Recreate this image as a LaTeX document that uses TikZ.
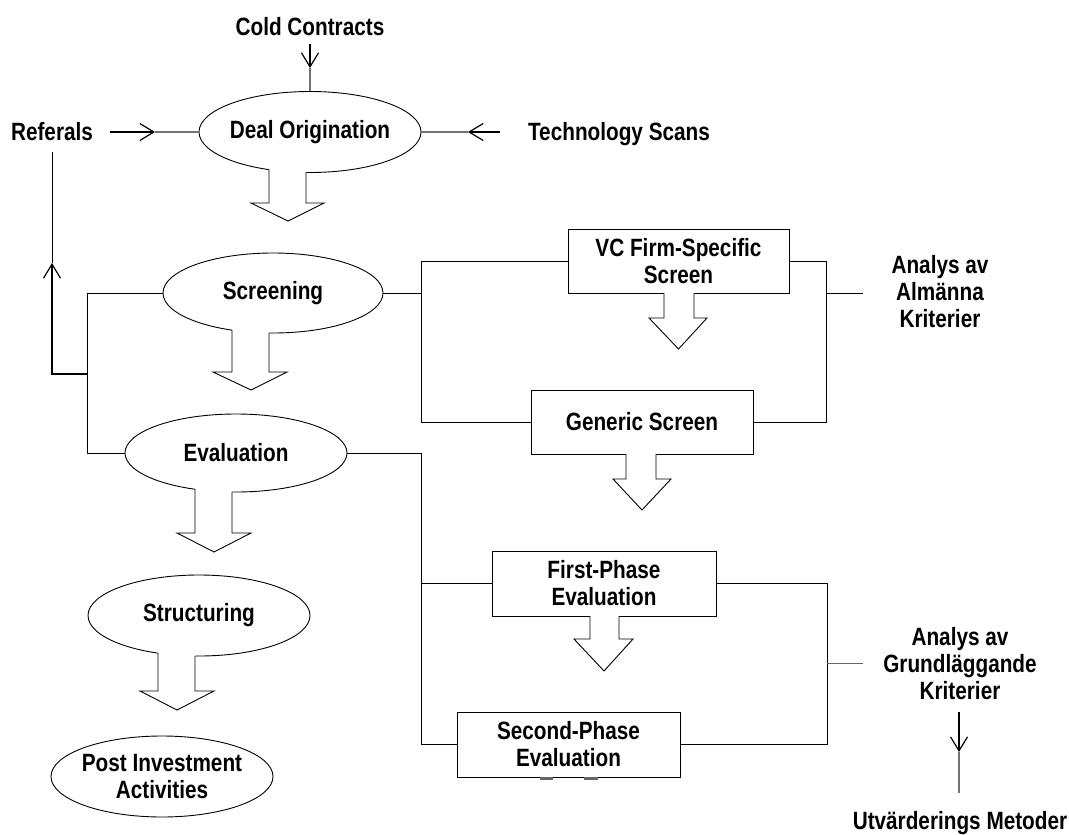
\documentclass[tikz,border=0pt]{standalone}
\usepackage{fontspec}
\setmainfont{Liberation Sans}[FakeStretch=0.83]
\usetikzlibrary{shapes.geometric,arrows.meta}
\newcommand\blockarr[9]{% xl yl xr yr yb hl hr tipx tipy
  \fill[white] (#1,#2) -- (#1,#5) -- (#6,#5) -- (#8,#9) -- (#7,#5) -- (#3,#5) -- (#3,#4) -- (#3,#4-4) -- (#1,#2-4) -- cycle;
  \draw[barrow] (#1,#2) -- (#1,#5) -- (#6,#5) -- (#8,#9) -- (#7,#5) -- (#3,#5) -- (#3,#4);
}
\begin{document}
\begin{tikzpicture}[x=1pt,y=-1pt,
  every node/.style={font=\fontsize{25}{27}\selectfont\bfseries, inner sep=0pt, align=center},
  oval/.style={ellipse, draw, line width=0.9pt, inner xsep=-4pt, minimum width=222pt, minimum height=80pt},
  box/.style={rectangle, draw, line width=0.9pt, minimum width=222pt, minimum height=64pt},
  conn/.style={line width=0.9pt},
  feed/.style={line width=1.5pt, -{Straight Barb[length=14pt,width=17pt,line width=1.2pt]}},
  feedrest/.style={line width=1.2pt, draw=black!55},
  barrow/.style={draw, line width=0.9pt, line join=miter},
]
\useasboundingbox (0,0) rectangle (1069,835);

% main stages
\node[oval, minimum height=81pt] (deal) at (310,132) {Deal Origination};
\node[oval, minimum width=220pt] (scr) at (273,293) {Screening};
\node[oval, minimum height=78pt] (eval) at (236,453) {Evaluation};
\node[oval, minimum height=81pt] (struct) at (199,615.5) {Structuring};
\node[oval, minimum height=81pt] (post) at (162,776.5) {Post Investment\\Activities};

% sub boxes
\node[box, minimum width=221pt] (vc) at (678.5,261) {VC Firm-Specific\\Screen};
\node[box] (gen) at (642,422) {Generic Screen};
\node[box, minimum width=224pt, minimum height=65pt] (fp) at (604,583.5) {First-Phase\\Evaluation};
\node[box, minimum width=223pt, minimum height=65pt] (sp) at (568.5,744.5) {Second-Phase\\Evaluation};

% labels
\node[anchor=base] (cold) at (310,35) {Cold Contracts};
\node[anchor=base] (ref) at (52,140) {Referals};
\node[anchor=base] (tech) at (619,140) {Technology Scans};
\node (alm) at (940,292) {Analys av\\Alm\"anna\\Kriterier};
\node (grund) at (960,664) {Analys av\\Grundl\"aggande\\Kriterier};
\node[anchor=base] (utv) at (960,829) {Utv\"arderings Metoder};

% inputs to deal origination
\coordinate (coldstart) at (310,44);
\coordinate (coldtip) at (310,68);
\draw[feed] (coldstart) -- (coldtip);
\draw[feedrest] (coldtip) -- (deal.north);
\coordinate (refstart) at (110,132);
\coordinate (reftip) at (155,132);
\draw[feed] (refstart) -- (reftip);
\draw[feedrest] (reftip) -- (deal.west);
\coordinate (techstart) at (500,132);
\coordinate (techtip) at (468,132);
\draw[feed] (techstart) -- (techtip);
\draw[feedrest] (techtip) -- (deal.east);

% feedback loop to referals
\coordinate (jL) at (88,374);
\coordinate (refup) at (52,263);
\coordinate (refbot) at (52,152);
\draw[conn] (scr.west) -- ++(-75,0) |- (eval.west);
\draw[feed, line width=1.3pt] (jL) -- (52,374) -- (refup);
\draw[conn] (refup) -- (refbot);

% screening group
\coordinate (sR) at (421,293);
\draw[conn] (scr.east) -- (sR);
\draw[conn] (vc.west) -| (sR |- gen.west) -- (gen.west);
\coordinate (rA) at (826,293);
\coordinate (rAend) at (863,293);
\draw[conn] (vc.east) -| (rA |- gen.east) -- (gen.east);
\draw[conn] (rA) -- (rAend);

% evaluation group
\coordinate (eL) at (421,453);
\draw[conn] (eval.east) -- (eL) |- (sp.west);
\draw[conn] (fp.west) -- (fp.west -| eL);
\coordinate (rB) at (827,663);
\coordinate (rBend) at (863,663);
\draw[conn] (fp.east) -| (rB |- sp.east) -- (sp.east);
\draw[conn, draw=black!60] (rB) -- (rBend);

% output
\coordinate (grstart) at (959,712);
\coordinate (grtip) at (959,752);
\coordinate (grend) at (959,793);
\draw[feed] (grstart) -- (grtip);
\draw[feedrest] (grtip) -- (grend);

% block arrows
\blockarr{269}{169.6}{306}{172.4}{203}{251}{324}{288}{221}
\blockarr{232}{330.1}{269}{333}{372}{213}{287}{251}{390}
\blockarr{195}{489.2}{232}{492}{533}{177}{251}{214}{552}
\blockarr{158}{653.1}{195}{656}{691}{140}{214}{177}{710}
\blockarr{664}{293}{694}{293}{318}{649}{707}{678.5}{349}
\blockarr{626}{454}{656}{454}{479}{613}{671}{642}{510}
\blockarr{590}{616}{619}{616}{639}{574}{633}{604}{671}

% remnants below second-phase box
\fill[black!60] (540,777) rectangle (553,780);
\fill[black!60] (584,777) rectangle (598,780);
\end{tikzpicture}
\end{document}
